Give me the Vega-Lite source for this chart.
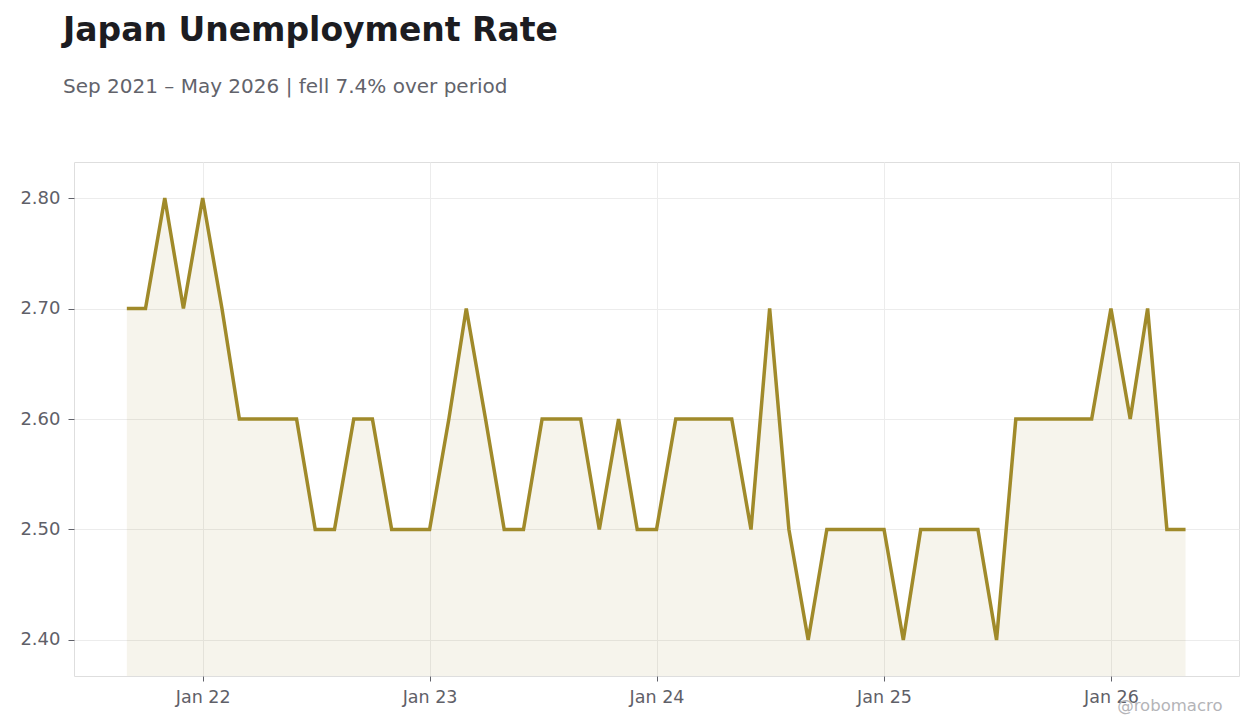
{
  "$schema": "https://vega.github.io/schema/vega-lite/v6.json",
  "background": "white",
  "autosize": {"type": "none"},
  "width": 1165,
  "height": 514,
  "padding": {"left": 74, "top": 162, "right": 21, "bottom": 52},
  "title": {
    "text": "Japan Unemployment Rate",
    "subtitle": "Sep 2021 – May 2026 | fell 7.4% over period",
    "anchor": "start",
    "frame": "group",
    "dx": -11,
    "offset": 65,
    "font": "DejaVu Sans",
    "fontSize": 33,
    "fontWeight": "bold",
    "color": "#1c1c21",
    "subtitleFont": "DejaVu Sans",
    "subtitleFontSize": 20,
    "subtitleColor": "#62636b",
    "subtitlePadding": 29
  },
  "config": {
    "view": {"stroke": "#dedede", "strokeWidth": 1},
    "font": "DejaVu Sans"
  },
  "data": {
    "values": [
      {"date": "2021-09-01", "rate": 2.7},
      {"date": "2021-10-01", "rate": 2.7},
      {"date": "2021-11-01", "rate": 2.8},
      {"date": "2021-12-01", "rate": 2.7},
      {"date": "2022-01-01", "rate": 2.8},
      {"date": "2022-02-01", "rate": 2.7},
      {"date": "2022-03-01", "rate": 2.6},
      {"date": "2022-04-01", "rate": 2.6},
      {"date": "2022-05-01", "rate": 2.6},
      {"date": "2022-06-01", "rate": 2.6},
      {"date": "2022-07-01", "rate": 2.5},
      {"date": "2022-08-01", "rate": 2.5},
      {"date": "2022-09-01", "rate": 2.6},
      {"date": "2022-10-01", "rate": 2.6},
      {"date": "2022-11-01", "rate": 2.5},
      {"date": "2022-12-01", "rate": 2.5},
      {"date": "2023-01-01", "rate": 2.5},
      {"date": "2023-02-01", "rate": 2.6},
      {"date": "2023-03-01", "rate": 2.7},
      {"date": "2023-04-01", "rate": 2.6},
      {"date": "2023-05-01", "rate": 2.5},
      {"date": "2023-06-01", "rate": 2.5},
      {"date": "2023-07-01", "rate": 2.6},
      {"date": "2023-08-01", "rate": 2.6},
      {"date": "2023-09-01", "rate": 2.6},
      {"date": "2023-10-01", "rate": 2.5},
      {"date": "2023-11-01", "rate": 2.6},
      {"date": "2023-12-01", "rate": 2.5},
      {"date": "2024-01-01", "rate": 2.5},
      {"date": "2024-02-01", "rate": 2.6},
      {"date": "2024-03-01", "rate": 2.6},
      {"date": "2024-04-01", "rate": 2.6},
      {"date": "2024-05-01", "rate": 2.6},
      {"date": "2024-06-01", "rate": 2.5},
      {"date": "2024-07-01", "rate": 2.7},
      {"date": "2024-08-01", "rate": 2.5},
      {"date": "2024-09-01", "rate": 2.4},
      {"date": "2024-10-01", "rate": 2.5},
      {"date": "2024-11-01", "rate": 2.5},
      {"date": "2024-12-01", "rate": 2.5},
      {"date": "2025-01-01", "rate": 2.5},
      {"date": "2025-02-01", "rate": 2.4},
      {"date": "2025-03-01", "rate": 2.5},
      {"date": "2025-04-01", "rate": 2.5},
      {"date": "2025-05-01", "rate": 2.5},
      {"date": "2025-06-01", "rate": 2.5},
      {"date": "2025-07-01", "rate": 2.4},
      {"date": "2025-08-01", "rate": 2.6},
      {"date": "2025-09-01", "rate": 2.6},
      {"date": "2025-10-01", "rate": 2.6},
      {"date": "2025-11-01", "rate": 2.6},
      {"date": "2025-12-01", "rate": 2.6},
      {"date": "2026-01-01", "rate": 2.7},
      {"date": "2026-02-01", "rate": 2.6},
      {"date": "2026-03-01", "rate": 2.7},
      {"date": "2026-04-01", "rate": 2.5},
      {"date": "2026-05-01", "rate": 2.5}
    ]
  },
  "encoding": {
    "x": {
      "field": "date",
      "type": "temporal",
      "scale": {
        "domain": [
          {"year": 2021, "month": 6, "date": 8},
          {"year": 2026, "month": 7, "date": 26}
        ]
      },
      "axis": {
        "title": "@robomacro",
        "titleAnchor": "start",
        "titleAlign": "right",
        "titleX": 1148,
        "titleY": 34,
        "titleFontSize": 16.5,
        "titleFontWeight": "normal",
        "titleColor": "#b4b4b8",
        "titleBaseline": "alphabetic",
        "values": [
          {"year": 2022, "month": 1, "date": 1},
          {"year": 2023, "month": 1, "date": 1},
          {"year": 2024, "month": 1, "date": 1},
          {"year": 2025, "month": 1, "date": 1},
          {"year": 2026, "month": 1, "date": 1}
        ],
        "format": "%b %y",
        "labelFontSize": 17.5,
        "labelColor": "#5f6068",
        "labelPadding": 7,
        "tickColor": "#5f6068",
        "tickSize": 5,
        "domain": false,
        "gridColor": "#ececec",
        "gridWidth": 1
      }
    },
    "y": {
      "field": "rate",
      "type": "quantitative",
      "scale": {"domain": [2.3674, 2.8326], "zero": false, "nice": false},
      "axis": {
        "title": null,
        "values": [2.4, 2.5, 2.6, 2.7, 2.8],
        "format": ".2f",
        "labelFontSize": 18,
        "labelColor": "#5f6068",
        "labelPadding": 8,
        "tickColor": "#5f6068",
        "tickSize": 6,
        "domain": false,
        "gridColor": "#ececec",
        "gridWidth": 1
      }
    }
  },
  "layer": [
    {
      "mark": {"type": "area", "color": "#a08a2a", "opacity": 0.09},
      "encoding": {"y2": {"datum": 2.3674}}
    },
    {
      "mark": {"type": "line", "color": "#a08a2a", "strokeWidth": 3.5, "strokeJoin": "miter"}
    }
  ]
}
